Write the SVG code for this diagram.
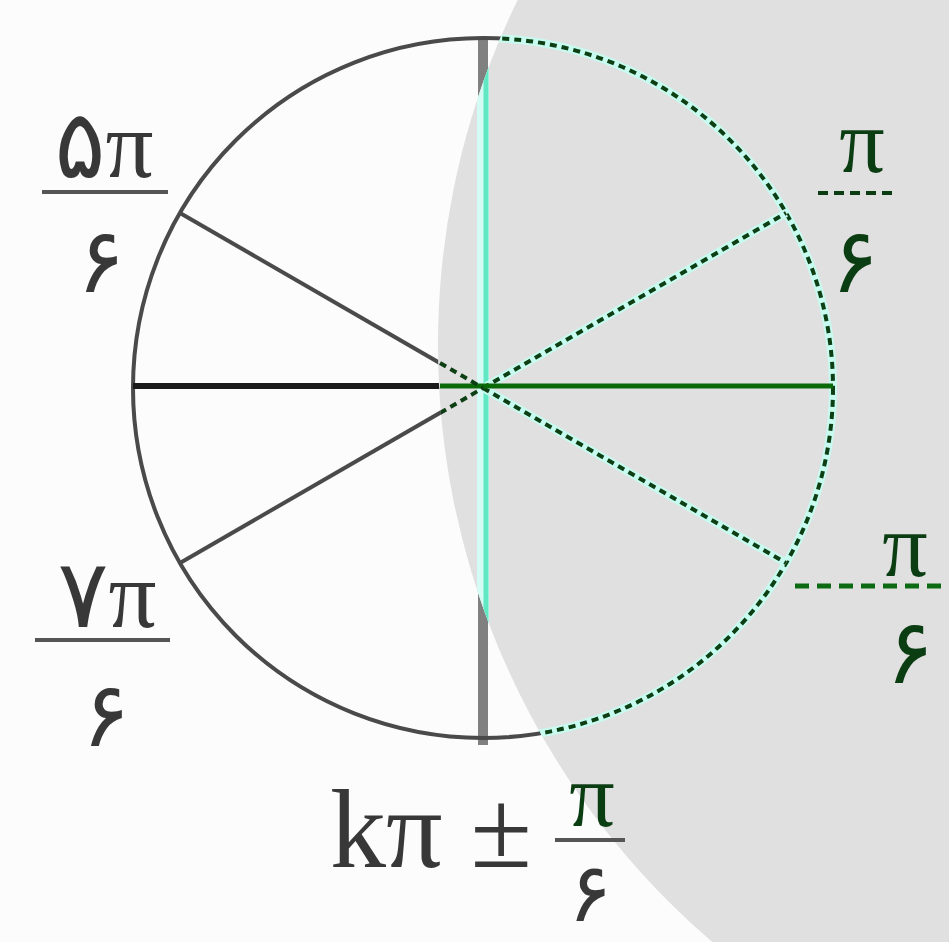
<svg xmlns="http://www.w3.org/2000/svg" width="949" height="942" viewBox="0 0 949 942">
<style>
.t{font-family:"Liberation Serif","DejaVu Sans","Noto Sans",serif;fill:#383838;}
.tg{font-family:"Liberation Serif","DejaVu Sans","Noto Sans",serif;fill:#0b3d12;}
.w{fill:none;stroke:#4a4a4a;stroke-width:4;}
.halo{fill:none;stroke:#c8fbf0;stroke-width:8;}
.g{fill:none;stroke:#0e3f14;stroke-width:4;stroke-dasharray:7 5;}
.bar{stroke:#555;stroke-width:4;}
</style>
<defs>
<clipPath id="grey"><circle cx="1225" cy="345" r="787"/></clipPath>
<clipPath id="white"><path d="M0 0H949V942H0Z M1225 345m-787 0a787 787 0 1 0 1574 0a787 787 0 1 0 -1574 0Z" clip-rule="evenodd"/></clipPath>
</defs>
<rect width="949" height="942" fill="#fcfcfc"/>
<circle id="shade" cx="1225" cy="345" r="787" fill="#e0e0e0"/>

<g id="connectors">
 <g clip-path="url(#white)">
  <line x1="483" y1="38" x2="483" y2="745" stroke="#808080" stroke-width="10"/>
  <circle class="w" cx="483" cy="388" r="350"/>
  <line x1="133" y1="386" x2="483" y2="386" stroke="#1a1a1a" stroke-width="6"/>
  <line class="w" x1="180" y1="213" x2="483" y2="388"/>
  <line class="w" x1="180" y1="563" x2="483" y2="388"/>
 </g>
 <g clip-path="url(#grey)">
  <line x1="483" y1="38" x2="483" y2="745" stroke="#d4fbf4" stroke-width="12"/>
  <line x1="486" y1="38" x2="486" y2="745" stroke="#5fe8c2" stroke-width="5"/>
  <circle class="halo" cx="483" cy="388" r="350"/>
  <circle class="g" cx="483" cy="388" r="350"/>
  <line class="halo" x1="483" y1="388" x2="786" y2="213"/>
  <line class="g" x1="483" y1="388" x2="786" y2="213"/>
  <line class="halo" x1="483" y1="388" x2="786" y2="563"/>
  <line class="g" x1="483" y1="388" x2="786" y2="563"/>
  <line x1="440" y1="386" x2="833" y2="386" stroke="#0a6a0a" stroke-width="5"/>
  <line class="g" x1="440" y1="363" x2="483" y2="388"/>
  <line class="g" x1="440" y1="413" x2="483" y2="388"/>
 </g>
</g>

<g id="label-5pi6">
 <text class="t" x="104" y="177" font-size="95" text-anchor="middle">۵π</text>
 <line class="bar" x1="42" y1="192" x2="168" y2="192"/>
 <text class="t" x="101" y="292" font-size="90" text-anchor="middle">۶</text>
</g>
<g id="label-7pi6">
 <text class="t" x="107" y="627" font-size="95" text-anchor="middle">۷π</text>
 <line class="bar" x1="35" y1="640" x2="170" y2="640"/>
 <text class="t" x="106" y="746" font-size="90" text-anchor="middle">۶</text>
</g>
<g id="label-pi6">
 <text class="tg" x="862" y="172" font-size="90" text-anchor="middle">π</text>
 <line stroke="#0b3d12" stroke-width="4" stroke-dasharray="10 6" x1="818" y1="193" x2="897" y2="193"/>
 <text class="tg" x="855" y="292" font-size="90" text-anchor="middle">۶</text>
</g>
<g id="label-11pi6">
 <text class="tg" x="905" y="576" font-size="90" text-anchor="middle">π</text>
 <line stroke="#0b6a12" stroke-width="5" stroke-dasharray="14 8" x1="795" y1="586" x2="949" y2="586"/>
 <text class="tg" x="910" y="683" font-size="90" text-anchor="middle">۶</text>
</g>
<g id="label-kpi">
 <text class="t" x="330" y="867" font-size="112">kπ ±</text>
 <text class="tg" x="592" y="826" font-size="90" text-anchor="middle">π</text>
 <line class="bar" x1="555" y1="840" x2="625" y2="840"/>
 <text class="t" x="590" y="921" font-size="82" text-anchor="middle">۶</text>
</g>
</svg>
